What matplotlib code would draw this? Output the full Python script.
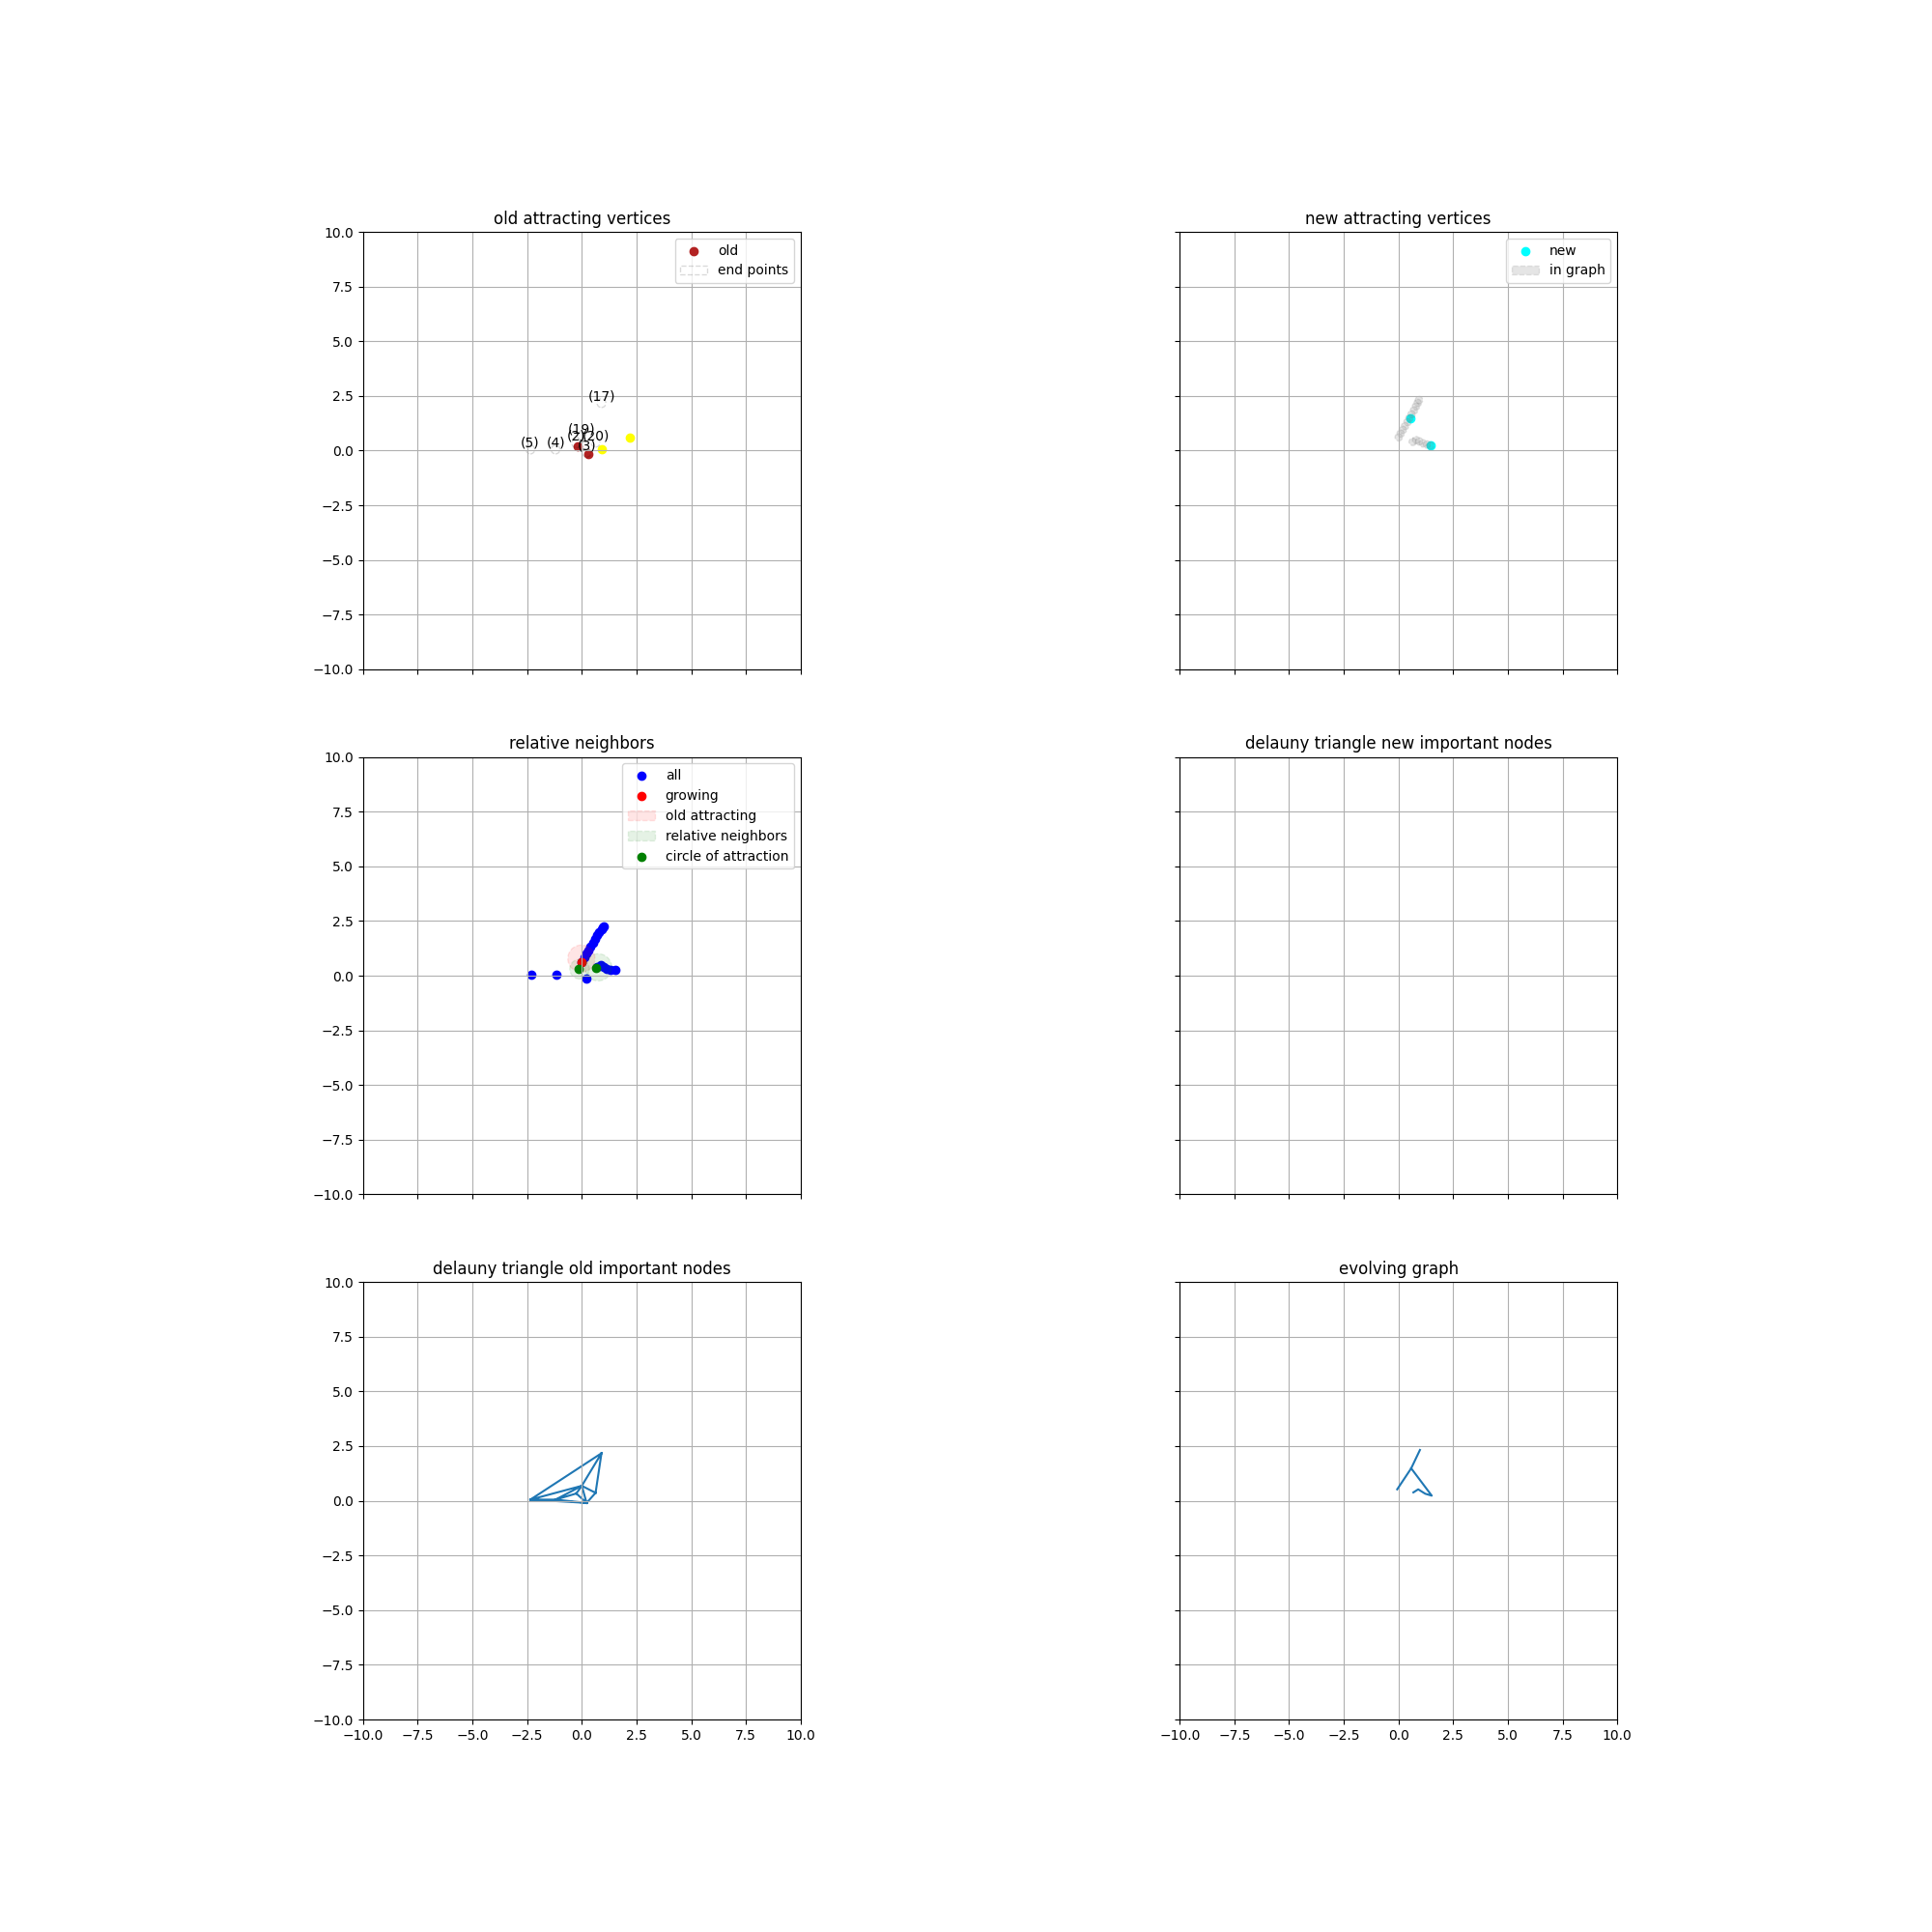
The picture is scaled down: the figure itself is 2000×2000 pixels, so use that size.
import matplotlib.pyplot as plt
import matplotlib.tri as mtri
from matplotlib.patches import Circle
import numpy as np

# old attracting vertices
old_x = [-0.19, 0.29]
old_y = [0.21, -0.17]
yellow_x = [2.19, 0.91]
yellow_y = [0.58, 0.05]

# numbered end points
end_ids = ['(5)', '(4)', '(17)', '(19)', '(2)', '(20)', '(3)']
end_x = [-2.35, -1.2, 0.9, 0.0, -0.25, 0.63, 0.22]
end_y = [0.05, 0.05, 2.17, 0.68, 0.33, 0.36, -0.1]

# new attracting vertices
new_x = [0.53, 1.46]
new_y = [1.5, 0.23]

# nodes in graph
graph_x = [0.01, 0.1, 0.2, 0.3, 0.41, 0.5, 0.6, 0.71, 0.8, 0.88, 0.94,
           0.65, 0.8, 0.95, 1.12, 1.3, 1.46]
graph_y = [0.61, 0.78, 0.95, 1.12, 1.3, 1.48, 1.66, 1.84, 2.02, 2.18, 2.31,
           0.4, 0.48, 0.42, 0.33, 0.28, 0.23]

# relative neighbors panel
all_x = [-2.3, -1.15, 0.2, 0.0, 0.1, 0.2, 0.3, 0.4, 0.5, 0.6, 0.7, 0.8,
         0.9, 0.97, 1.02, 0.69, 0.85, 1.0, 1.15, 1.3, 1.53]
all_y = [0.04, 0.04, -0.12, 0.64, 0.82, 1.0, 1.17, 1.34, 1.5, 1.67, 1.84,
         2.0, 2.12, 2.2, 2.25, 0.38, 0.48, 0.4, 0.32, 0.27, 0.28]
growing_x = [0.0]
growing_y = [0.63]
attract_x = [-0.16, 0.66]
attract_y = [0.3, 0.35]
old_circ = [(-0.02, 0.78, 0.62)]
rel_circ = [(0.75, 0.38, 0.62), (-0.1, 0.3, 0.45)]

# evolving graph
edges = [
    ([-0.06, 0.58, 0.98], [0.52, 1.48, 2.32]),
    ([0.58, 1.52, 1.22, 0.9, 0.68], [1.48, 0.23, 0.32, 0.52, 0.38]),
]

fig, axs = plt.subplots(3, 2, figsize=(20, 20), sharex=True, sharey=True)
for ax in axs.flat:
    ax.set_xlim(-10, 10)
    ax.set_ylim(-10, 10)
    ax.set_aspect('equal')
    ax.grid(True)

ax = axs[0, 0]
ax.set_title('old attracting vertices')
ax.scatter(old_x, old_y, color='firebrick', label='old')
ax.scatter(yellow_x, yellow_y, color='yellow')
for i, (x, y) in enumerate(zip(end_x, end_y)):
    c = Circle((x, y), 0.2, fill=False, edgecolor='black', alpha=0.15,
               linestyle='--', label='end points' if i == 0 else None)
    ax.add_patch(c)
    ax.text(x, y, end_ids[i], ha='center', va='bottom', fontsize=10)
ax.legend(loc='upper right')

ax = axs[0, 1]
ax.set_title('new attracting vertices')
ax.scatter(new_x, new_y, color='cyan', label='new')
for i, (x, y) in enumerate(zip(graph_x, graph_y)):
    ax.add_patch(Circle((x, y), 0.17, color='gray', alpha=0.2, linestyle='--',
                        label='in graph' if i == 0 else None))
ax.legend(loc='upper right')

ax = axs[1, 0]
ax.set_title('relative neighbors')
ax.scatter(all_x, all_y, color='blue', label='all')
ax.scatter(growing_x, growing_y, color='red', label='growing')
for i, (x, y, r) in enumerate(old_circ):
    ax.add_patch(Circle((x, y), r, color='red', alpha=0.1, linestyle='--',
                        label='old attracting' if i == 0 else None))
for i, (x, y, r) in enumerate(rel_circ):
    ax.add_patch(Circle((x, y), r, color='green', alpha=0.1, linestyle='--',
                        label='relative neighbors' if i == 0 else None))
ax.scatter(attract_x, attract_y, color='green', label='circle of attraction')
ax.legend(loc='upper right')

axs[1, 1].set_title('delauny triangle new important nodes')

ax = axs[2, 0]
ax.set_title('delauny triangle old important nodes')
tri = mtri.Triangulation(end_x, end_y)
ax.triplot(tri, color='tab:blue')

ax = axs[2, 1]
ax.set_title('evolving graph')
for ex, ey in edges:
    ax.plot(ex, ey, color='tab:blue')

axs[2, 0].tick_params(labelbottom=True)
axs[2, 1].tick_params(labelbottom=True)

plt.savefig('out.png', dpi=100)
